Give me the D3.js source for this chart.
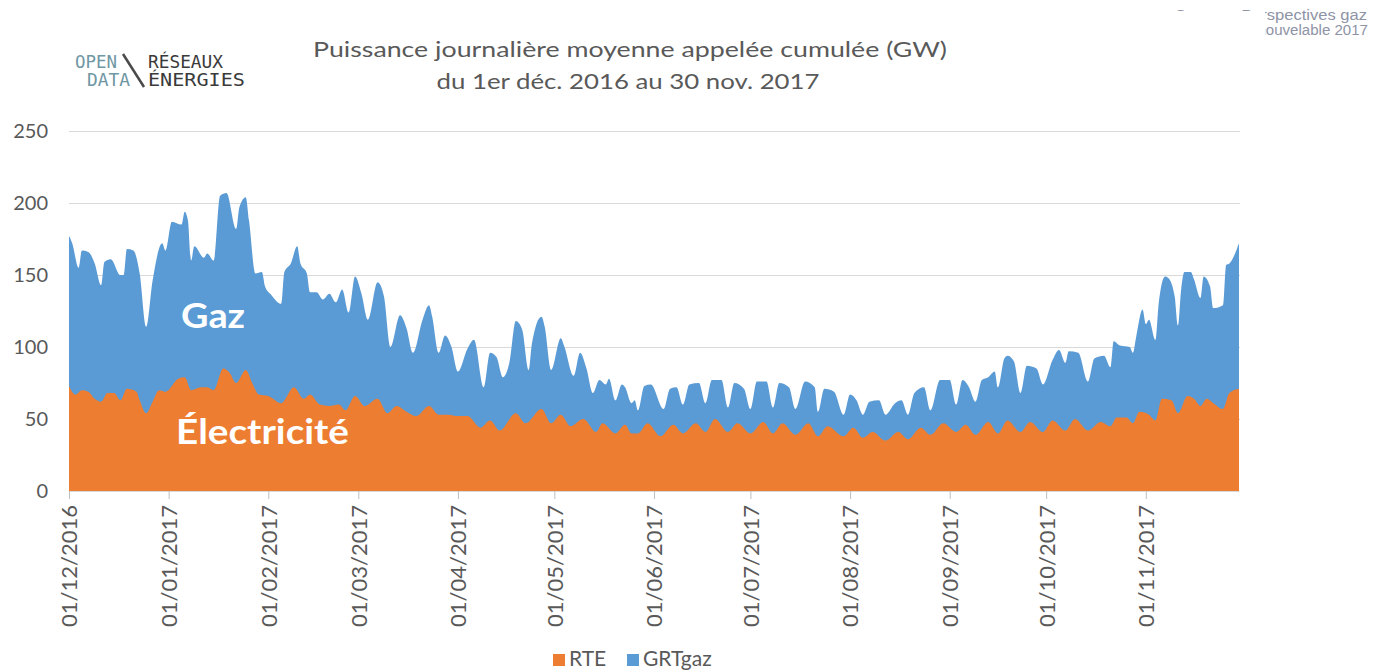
<!DOCTYPE html>
<html>
<head>
<meta charset="utf-8">
<script src="https://cdn.jsdelivr.net/npm/d3@7"></script>
<style>
  body { margin: 0; background: #fff; }
  svg { display: block; }
</style>
</head>
<body>
<svg id="chart"></svg>
<script>
// top of the stacked area (RTE + GRTgaz), GW
const cumul = [
  ["2016-12-01",177],["2016-12-02",172],["2016-12-04",155],["2016-12-05",167],["2016-12-07",166],
  ["2016-12-09",158],["2016-12-11",143],["2016-12-12",159],["2016-12-14",161],["2016-12-17",150],
  ["2016-12-18",150],["2016-12-19",168],["2016-12-21",167],["2016-12-23",151],["2016-12-25",114],
  ["2016-12-27",146],["2016-12-30",172],["2016-12-31",167],["2017-01-02",187],["2017-01-05",185],
  ["2017-01-06",194],["2017-01-07",188],["2017-01-08",160],["2017-01-09",170],["2017-01-12",162],
  ["2017-01-13",165],["2017-01-15",160],["2017-01-17",205],["2017-01-19",207],["2017-01-22",182],
  ["2017-01-23",197],["2017-01-25",204],["2017-01-26",188],["2017-01-28",151],["2017-01-30",152],
  ["2017-01-31",142],["2017-02-02",136],["2017-02-05",130],["2017-02-06",152],["2017-02-08",158],
  ["2017-02-10",170],["2017-02-11",158],["2017-02-13",151],["2017-02-14",138],["2017-02-16",138],
  ["2017-02-18",133],["2017-02-20",137],["2017-02-22",131],["2017-02-24",140],["2017-02-26",124],
  ["2017-02-28",149],["2017-03-02",137],["2017-03-04",119],["2017-03-07",145],["2017-03-09",135],
  ["2017-03-11",100],["2017-03-14",122],["2017-03-16",113],["2017-03-18",96],["2017-03-21",119],
  ["2017-03-23",129],["2017-03-24",121],["2017-03-26",96],["2017-03-28",108],["2017-03-30",100],
  ["2017-04-01",83],["2017-04-04",99],["2017-04-06",105],["2017-04-09",72],["2017-04-11",96],
  ["2017-04-13",93],["2017-04-15",79],["2017-04-17",89],["2017-04-19",118],["2017-04-21",112],
  ["2017-04-23",84],["2017-04-24",102],["2017-04-27",121],["2017-04-28",114],["2017-04-30",84],
  ["2017-05-03",106],["2017-05-04",101],["2017-05-07",80],["2017-05-09",96],["2017-05-11",85],
  ["2017-05-13",68],["2017-05-15",77],["2017-05-17",74],["2017-05-18",78],["2017-05-20",63],
  ["2017-05-22",74],["2017-05-23",72],["2017-05-25",61],["2017-05-26",63],["2017-05-27",56],
  ["2017-05-29",73],["2017-05-31",74],["2017-06-04",57],["2017-06-06",71],["2017-06-08",72],
  ["2017-06-10",60],["2017-06-12",74],["2017-06-15",75],["2017-06-17",61],["2017-06-19",77],
  ["2017-06-22",77],["2017-06-24",58],["2017-06-26",75],["2017-06-29",71],["2017-07-01",57],
  ["2017-07-03",76],["2017-07-06",76],["2017-07-08",58],["2017-07-10",75],["2017-07-13",72],
  ["2017-07-15",57],["2017-07-18",76],["2017-07-21",72],["2017-07-22",55],["2017-07-24",71],
  ["2017-07-27",69],["2017-07-30",53],["2017-08-01",67],["2017-08-03",63],["2017-08-05",53],
  ["2017-08-07",62],["2017-08-10",63],["2017-08-12",53],["2017-08-15",61],["2017-08-17",63],
  ["2017-08-19",53],["2017-08-21",68],["2017-08-24",72],["2017-08-26",56],["2017-08-29",77],
  ["2017-09-01",77],["2017-09-03",60],["2017-09-05",77],["2017-09-07",72],["2017-09-09",62],
  ["2017-09-11",77],["2017-09-13",79],["2017-09-15",83],["2017-09-16",72],["2017-09-18",92],
  ["2017-09-19",94],["2017-09-21",90],["2017-09-23",68],["2017-09-25",87],["2017-09-28",85],
  ["2017-09-30",74],["2017-10-03",91],["2017-10-05",98],["2017-10-07",89],["2017-10-08",97],
  ["2017-10-11",96],["2017-10-14",76],["2017-10-16",92],["2017-10-19",94],["2017-10-21",86],
  ["2017-10-22",104],["2017-10-24",101],["2017-10-27",100],["2017-10-28",96],["2017-10-29",107],
  ["2017-10-31",126],["2017-11-01",116],["2017-11-02",119],["2017-11-04",105],["2017-11-05",130],
  ["2017-11-07",149],["2017-11-08",148],["2017-11-10",135],["2017-11-11",115],["2017-11-12",140],
  ["2017-11-13",152],["2017-11-15",152],["2017-11-16",147],["2017-11-18",134],["2017-11-19",149],
  ["2017-11-21",142],["2017-11-22",127],["2017-11-25",129],["2017-11-26",157],["2017-11-27",158],
  ["2017-11-30",172]
]

// RTE (électricité), GW
const rte = [
  ["2016-12-01",73],["2016-12-03",67],["2016-12-05",70],["2016-12-07",69],["2016-12-09",64],
  ["2016-12-11",62],["2016-12-13",68],["2016-12-15",68],["2016-12-17",63],["2016-12-19",71],
  ["2016-12-22",69],["2016-12-23",63],["2016-12-25",54],["2016-12-27",62],["2016-12-29",70],
  ["2016-12-31",69],["2017-01-04",78],["2017-01-06",79],["2017-01-08",70],["2017-01-11",72],
  ["2017-01-13",72],["2017-01-15",70],["2017-01-18",85],["2017-01-20",82],["2017-01-22",75],
  ["2017-01-25",84],["2017-01-27",75],["2017-01-29",67],["2017-02-01",66],["2017-02-05",61],
  ["2017-02-09",72],["2017-02-12",64],["2017-02-14",67],["2017-02-17",60],["2017-02-20",59],
  ["2017-02-23",60],["2017-02-25",56],["2017-02-28",66],["2017-03-03",59],["2017-03-07",64],
  ["2017-03-10",54],["2017-03-13",59],["2017-03-16",55],["2017-03-19",52],["2017-03-23",59],
  ["2017-03-26",53],["2017-03-29",53],["2017-04-01",52],["2017-04-04",52],["2017-04-08",44],
  ["2017-04-11",49],["2017-04-14",42],["2017-04-19",54],["2017-04-22",47],["2017-04-27",57],
  ["2017-04-30",47],["2017-05-03",53],["2017-05-06",45],["2017-05-10",50],["2017-05-14",41],
  ["2017-05-16",47],["2017-05-20",40],["2017-05-23",46],["2017-05-25",40],["2017-05-27",40],
  ["2017-05-30",47],["2017-06-03",38],["2017-06-07",46],["2017-06-10",40],["2017-06-14",47],
  ["2017-06-17",41],["2017-06-20",50],["2017-06-24",41],["2017-06-27",47],["2017-07-01",40],
  ["2017-07-05",48],["2017-07-08",40],["2017-07-11",47],["2017-07-15",39],["2017-07-19",47],
  ["2017-07-22",38],["2017-07-25",45],["2017-07-30",38],["2017-08-02",44],["2017-08-05",37],
  ["2017-08-08",41],["2017-08-12",35],["2017-08-16",41],["2017-08-19",36],["2017-08-23",44],
  ["2017-08-26",39],["2017-08-30",47],["2017-09-03",41],["2017-09-06",46],["2017-09-09",39],
  ["2017-09-13",48],["2017-09-16",40],["2017-09-19",49],["2017-09-23",41],["2017-09-26",48],
  ["2017-09-30",41],["2017-10-03",49],["2017-10-07",42],["2017-10-10",50],["2017-10-14",42],
  ["2017-10-18",48],["2017-10-21",45],["2017-10-23",51],["2017-10-26",51],["2017-10-28",47],
  ["2017-10-30",55],["2017-11-02",53],["2017-11-04",49],["2017-11-06",64],["2017-11-09",63],
  ["2017-11-11",54],["2017-11-14",66],["2017-11-16",64],["2017-11-18",59],["2017-11-20",64],
  ["2017-11-22",61],["2017-11-25",57],["2017-11-27",68],["2017-11-30",71]
]

const monthTicks = ["2016-12-01","2017-01-01","2017-02-01","2017-03-01","2017-04-01","2017-05-01",
  "2017-06-01","2017-07-01","2017-08-01","2017-09-01","2017-10-01","2017-11-01"]
const yTicks = [0, 50, 100, 150, 200, 250]
const legendNames = ["RTE", "GRTgaz"]
const colors = {RTE: "#ED7D31", GRTgaz: "#5B9BD5"}

const width = 1374, height = 672
const margin = {left: 69, right: 1239, bottom: 491, top: 131}
const grey = "#595959"
const font = "Lato, 'Open Sans', sans-serif"

const parse = d3.timeParse("%Y-%m-%d")
const fmt = d3.timeFormat("%d/%m/%Y")

const x = d3.scaleTime()
  .domain([parse("2016-12-01"), parse("2017-11-30")])
  .range([margin.left, margin.right])
const y = d3.scaleLinear()
  .domain([0, 250])
  .range([margin.bottom, margin.top])

const svg = d3.select("#chart")
  .attr("width", width)
  .attr("height", height)
  .attr("font-family", font)

// stretch a text horizontally to the width it has in the picture
function fit(sel, w) {
  sel.attr("textLength", w).attr("lengthAdjust", "spacingAndGlyphs")
  return sel
}

// gridlines
svg.append("g")
  .selectAll("line")
  .data(yTicks.filter(d => d > 0))
  .join("line")
    .attr("x1", margin.left).attr("x2", margin.right + 1)
    .attr("y1", d => y(d) + 0.5).attr("y2", d => y(d) + 0.5)
    .attr("stroke", "#D9D9D9")
    .attr("stroke-width", 1)

// areas: total first, RTE drawn over it
const area = d3.area()
  .x(d => x(parse(d[0])))
  .y0(y(0))
  .y1(d => y(d[1]))
  .curve(d3.curveMonotoneX)

svg.append("path")
  .datum(cumul)
  .attr("fill", colors.GRTgaz)
  .attr("d", area)

svg.append("path")
  .datum(rte)
  .attr("fill", colors.RTE)
  .attr("d", area)

// x axis
const xAxis = svg.append("g")
  .attr("transform", `translate(0,${margin.bottom})`)
  .call(d3.axisBottom(x)
    .tickValues(monthTicks.map(parse))
    .tickFormat(fmt)
    .tickSize(8)
    .tickSizeOuter(0))
xAxis.select(".domain").attr("stroke", "#D9D9D9")
xAxis.selectAll(".tick line").attr("stroke", "#BFBFBF")
xAxis.selectAll(".tick text")
  .attr("transform", "rotate(-90)")
  .attr("text-anchor", "end")
  .attr("x", -14)
  .attr("y", 0)
  .attr("dy", "0.36em")
  .attr("font-family", font)
  .attr("font-size", 22)
  .attr("fill", grey)

// y axis labels
const yAxis = svg.append("g")
  .attr("transform", `translate(${margin.left},0)`)
  .call(d3.axisLeft(y).tickValues(yTicks).tickSize(0).tickPadding(21))
yAxis.select(".domain").remove()
yAxis.selectAll(".tick text")
  .attr("font-family", font)
  .attr("font-size", 20)
  .attr("fill", grey)

// labels inside the areas
svg.append("text")
  .attr("x", 181).attr("y", 328)
  .attr("font-size", 34).attr("font-weight", "bold")
  .attr("fill", "#fff")
  .text("Gaz")
  .call(fit, 64)
svg.append("text")
  .attr("x", 176).attr("y", 444)
  .attr("font-size", 34).attr("font-weight", "bold")
  .attr("fill", "#fff")
  .text("Électricité")
  .call(fit, 173)

// title
svg.append("text")
  .attr("x", 630).attr("y", 57)
  .attr("text-anchor", "middle")
  .attr("font-size", 22).attr("fill", grey)
  .text("Puissance journalière moyenne appelée cumulée (GW)")
  .call(fit, 634)
svg.append("text")
  .attr("x", 628).attr("y", 89)
  .attr("text-anchor", "middle")
  .attr("font-size", 22).attr("fill", grey)
  .text("du 1er déc. 2016 au 30 nov. 2017")
  .call(fit, 383)

// logo
const logo = svg.append("g")
  .attr("font-family", "'DejaVu Sans Mono', monospace")
  .attr("font-size", 17)
logo.append("text").attr("x", 75).attr("y", 68).attr("fill", "#6F97A4").text("OPEN").call(fit, 42)
logo.append("text").attr("x", 87).attr("y", 86).attr("fill", "#6F97A4").text("DATA").call(fit, 43)
logo.append("line")
  .attr("x1", 123).attr("y1", 54).attr("x2", 144).attr("y2", 87)
  .attr("stroke", "#4a4a4a").attr("stroke-width", 2.5)
logo.append("text").attr("x", 148).attr("y", 68).attr("fill", "#3a3a3a").text("RÉSEAUX").call(fit, 75)
logo.append("text").attr("x", 148).attr("y", 86).attr("fill", "#3a3a3a").text("ÉNERGIES").call(fit, 97)

// source note, partly hidden in the picture
const src = svg.append("g").attr("font-family", "'Liberation Sans', Arial, sans-serif")
  .attr("font-size", 14).attr("fill", "#8E93A6").attr("text-anchor", "end")
src.append("text").attr("x", 1367).attr("y", 20).text("Source : Perspectives gaz").call(fit, 192)
src.append("text").attr("x", 1368).attr("y", 35).text("renouvelable 2017").call(fit, 124)
svg.append("rect")
  .attr("x", 1160).attr("y", 11).attr("width", 105).attr("height", 34)
  .attr("fill", "#fff")

// legend
const legendX = [553, 627]
const legend = svg.append("g")
  .selectAll("g")
  .data(legendNames)
  .join("g")
    .attr("transform", (d, i) => `translate(${legendX[i]},654)`)
legend.append("rect")
  .attr("width", 12).attr("height", 12)
  .attr("fill", d => colors[d])
legend.append("text")
  .attr("x", 16).attr("y", 12)
  .attr("font-size", 21).attr("fill", grey)
  .text(d => d)
</script>
</body>
</html>
